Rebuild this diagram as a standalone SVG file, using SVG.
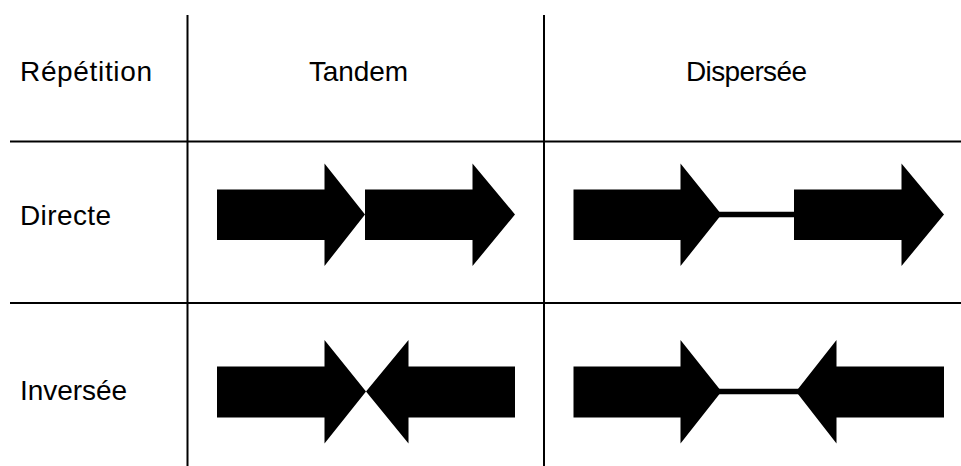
<svg xmlns="http://www.w3.org/2000/svg" width="961" height="466" viewBox="0 0 961 466">
<style>
.grid line{stroke:#000;stroke-width:2}
.lbl{font-family:"Liberation Sans",Arial,sans-serif;font-size:28px;fill:#000}
.arr{fill:#000}
.link{stroke:#000;stroke-width:5.5}
</style>
<rect width="961" height="466" fill="#fff"/>
<g id="grid" class="grid">
<line x1="187.5" y1="15" x2="187.5" y2="466"/>
<line x1="544" y1="15" x2="544" y2="466"/>
<line x1="10" y1="141.5" x2="961" y2="141.5"/>
<line x1="10" y1="303" x2="961" y2="303"/>
</g>
<g id="labels">
<text class="lbl" x="20" y="81" textLength="132">Répétition</text>
<text class="lbl" x="309" y="81" textLength="99">Tandem</text>
<text class="lbl" x="686" y="81" textLength="121">Dispersée</text>
<text class="lbl" x="20" y="225" textLength="91">Directe</text>
<text class="lbl" x="20" y="400" textLength="107">Inversée</text>
</g>
<g id="connectors">
<line class="link" x1="718" y1="214.5" x2="797" y2="214.5"/>
<line class="link" x1="718" y1="391.5" x2="800" y2="391.5"/>
</g>
<g id="tandem-directe">
<polygon class="arr" points="217,189.5 324.5,189.5 324.5,163.5 365,214.5 324.5,266 324.5,240 217,240"/>
<polygon class="arr" points="365,189.5 472.5,189.5 472.5,163.5 515,214.5 472.5,266 472.5,240 365,240"/>
</g>
<g id="dispersee-directe">
<polygon class="arr" points="573.5,189.5 680.5,189.5 680.5,163.5 721.5,214.5 680.5,266 680.5,240 573.5,240"/>
<polygon class="arr" points="794,189.5 901.5,189.5 901.5,163.5 944,214.5 901.5,266 901.5,240 794,240"/>
</g>
<g id="tandem-inversee">
<polygon class="arr" points="217,366.5 324.5,366.5 324.5,340 366,391.5 324.5,443.5 324.5,417.5 217,417.5"/>
<polygon class="arr" points="515,366.5 408.5,366.5 408.5,340 366,391.5 408.5,443.5 408.5,417.5 515,417.5"/>
</g>
<g id="dispersee-inversee">
<polygon class="arr" points="573.5,366.5 680.5,366.5 680.5,340 721.5,391.5 680.5,443.5 680.5,417.5 573.5,417.5"/>
<polygon class="arr" points="944,366.5 836.5,366.5 836.5,340 796,391.5 836.5,443.5 836.5,417.5 944,417.5"/>
</g>
</svg>
